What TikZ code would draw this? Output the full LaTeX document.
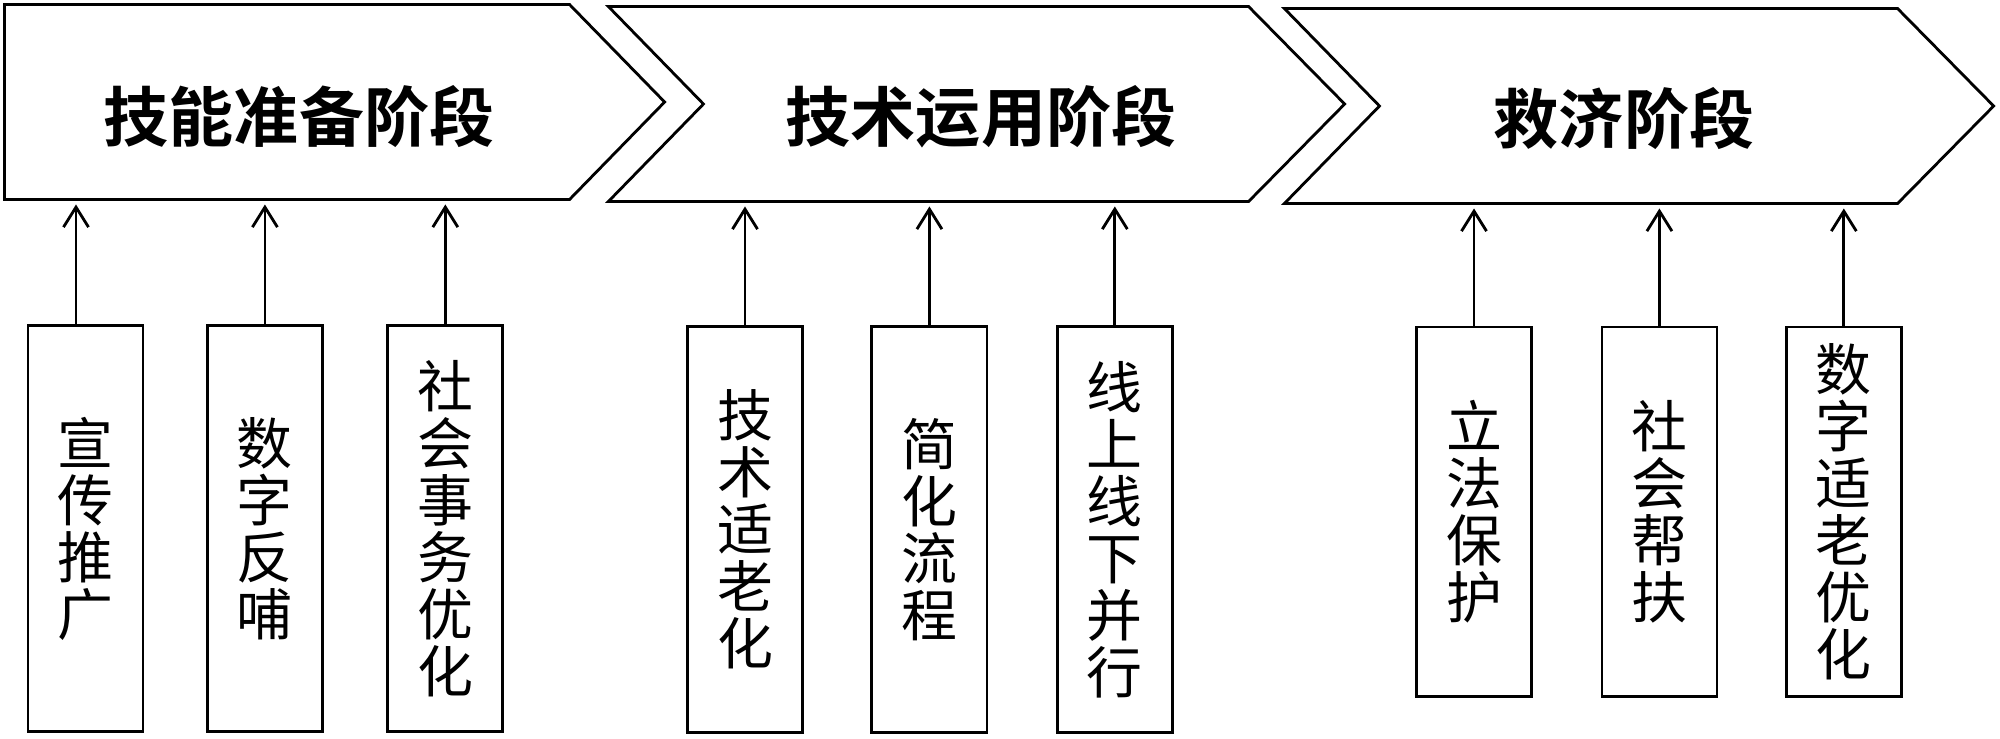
\documentclass[tikz,border=0pt]{standalone}
\usepackage{fontspec}
\setmainfont{Noto Sans CJK SC}[BoldFont={Noto Sans CJK SC Bold}]
\usetikzlibrary{positioning,arrows.meta}

\begin{document}
\begin{tikzpicture}[x=0.01cm, y=-0.01cm, line width=0.8pt,
stage/.style={minimum height=1.92cm, inner sep=0pt},
title/.style={font=\bfseries\fontsize{18.5pt}{18.5pt}\selectfont, inner sep=0pt},
item/.style={draw, minimum width=1.15cm, minimum height=4.05cm, inner sep=0pt,
    align=center, font=\fontsize{15.9pt}{16.2pt}\selectfont},
short/.style={item, minimum height=3.69cm},
arr/.style={-{Straight Barb[length=0.2cm,width=0.25cm]}, shorten >=0.05cm}]
\useasboundingbox (0,0) rectangle (2000,738);

% stages
\node[stage, minimum width=5.62cm] (c1) at (287,102) {};
\node[stage, minimum width=6.37cm] (c2) at (928.5,104) {};
\node[stage, minimum width=6.10cm] (c3) at (1591,106) {};
\draw (c1.north west) -- (c1.north east) -- ([xshift=0.95cm]c1.east)
  -- (c1.south east) -- (c1.south west) -- cycle;
\foreach \s in {c2,c3}
  \draw (\s.north west) -- (\s.north east) -- ([xshift=0.96cm]\s.east)
    -- (\s.south east) -- (\s.south west) -- ([xshift=0.95cm]\s.west) -- cycle;
\node[title] (t1) at (299,117) {技能准备阶段};
\node[title] (t2) at (981,117) {技术运用阶段};
\node[title] (t3) at (1624,119) {救济阶段};

% measures
\node[item] (b1) at (85.5,528.5) {宣\\传\\推\\广};
\node[item, right=0.615cm of b1] (b2) {数\\字\\反\\哺};
\node[item, right=0.625cm of b2] (b3) {社\\会\\事\\务\\优\\化};
\node[item] (b4) at (745,529.5) {技\\术\\适\\老\\化};
\node[item, right=0.665cm of b4] (b5) {简\\化\\流\\程};
\node[item, right=0.675cm of b5] (b6) {线\\上\\线\\下\\并\\行};
\node[short] (b7) at (1474,511.5) {立\\法\\保\\护};
\node[short, right=0.675cm of b7] (b8) {社\\会\\帮\\扶};
\node[short, right=0.665cm of b8] (b9) {数\\字\\适\\老\\优\\化};

\draw[arr] ([xshift=-0.095cm]b1.north) -- ([xshift=-0.095cm]b1.north |- c1.south);
\foreach \b/\c in {b2/c1,b3/c1,b4/c2,b5/c2,b6/c2,b7/c3,b8/c3,b9/c3}
  \draw[arr] (\b.north) -- (\b.north |- \c.south);
\end{tikzpicture}
\end{document}
